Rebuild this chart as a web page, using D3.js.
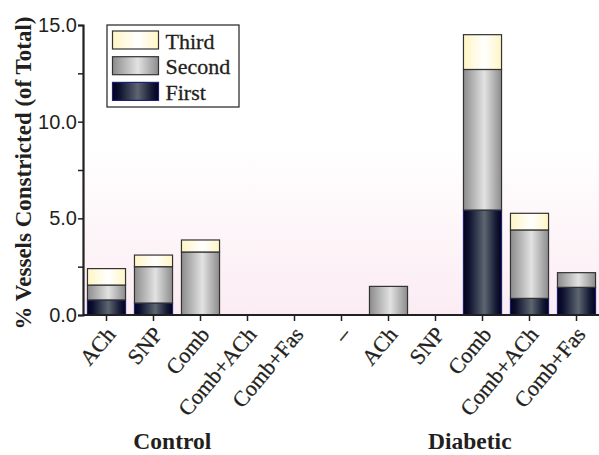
<!DOCTYPE html>
<html>
<head>
<meta charset="utf-8">
<script src="https://cdn.jsdelivr.net/npm/d3@7"></script>
<style>
  body { margin: 0; background: #fff; }
  svg { display: block; }
</style>
</head>
<body>
<svg width="599" height="455"></svg>
<script>
// categories along the x axis (two groups)
const categories = ["ACh", "SNP", "Comb", "Comb+ACh", "Comb+Fas", "\u2013",
                    "ACh", "SNP", "Comb", "Comb+ACh", "Comb+Fas"];
// group label centres, in category steps from the first bar
const groups = [{ name: "Control", at: 1.4 }, { name: "Diabetic", at: 7.73 }];

// stacked segment values (% of total)
const first  = [0.78, 0.62, 0, 0, 0, 0, 0,    0, 5.43, 0.86, 1.43];
const second = [0.77, 1.88, 3.26, 0, 0, 0, 1.48, 0, 7.27, 3.54, 0.76];
const third  = [0.85, 0.60, 0.62, 0, 0, 0, 0,    0, 1.80, 0.86, 0];

const yTicks = [0, 5, 10, 15];

const svg = d3.select("svg"),
    width = +svg.attr("width"),
    height = +svg.attr("height");

const margin = { left: 83, right: 0, top: 25, bottom: 140 };
const plotBottom = height - margin.bottom;
const serif = "'Liberation Serif', 'Times New Roman', serif";
const ink = "#231f20";

const rows = categories.map((c, i) => ({ i, first: first[i], second: second[i], third: third[i] }));
const keys = ["first", "second", "third"];
const series = d3.stack().keys(keys)(rows);

const x = d3.scaleBand()
    .domain(d3.range(categories.length))
    .range([margin.left, margin.left + 47 * categories.length])
    .paddingInner(0.19)
    .paddingOuter(0.095);

const y = d3.scaleLinear()
    .domain([0, 15])
    .range([plotBottom, margin.top]);

// gradients
const defs = svg.append("defs");
function hGrad(id, stops) {
    const g = defs.append("linearGradient").attr("id", id)
        .attr("x1", "0%").attr("x2", "100%").attr("y1", "0%").attr("y2", "0%");
    stops.forEach(s => g.append("stop").attr("offset", s[0]).attr("stop-color", s[1]));
}
hGrad("g-first", [["0%", "#03001c"], ["15%", "#0e1230"], ["55%", "#5d6670"], ["85%", "#151a35"], ["100%", "#03001c"]]);
hGrad("g-second", [["0%", "#8c8c8c"], ["55%", "#e2e2e2"], ["100%", "#8c8c8c"]]);
hGrad("g-third", [["0%", "#fff5c4"], ["55%", "#ffffff"], ["100%", "#fff5c4"]]);

const bg = defs.append("linearGradient").attr("id", "g-bg")
    .attr("x1", "0%").attr("x2", "0%").attr("y1", "0%").attr("y2", "100%");
bg.append("stop").attr("offset", "0%").attr("stop-color", "#ffffff");
bg.append("stop").attr("offset", "42%").attr("stop-color", "#ffffff");
bg.append("stop").attr("offset", "100%").attr("stop-color", "#fbecf3");

svg.append("rect")
    .attr("x", margin.left).attr("y", margin.top)
    .attr("width", width - margin.left).attr("height", plotBottom - margin.top)
    .attr("fill", "url(#g-bg)");

const fills = { first: "url(#g-first)", second: "url(#g-second)", third: "url(#g-third)" };
const strokes = { first: "#1c2170", second: "#333", third: "#333" };

svg.append("g")
    .selectAll("g")
    .data(series)
    .enter().append("g")
    .attr("fill", d => fills[d.key])
    .attr("stroke", d => strokes[d.key])
    .attr("stroke-width", 1.2)
    .selectAll("rect")
    .data(d => d.filter(p => p[1] - p[0] > 0))
    .enter().append("rect")
    .attr("x", d => x(d.data.i))
    .attr("width", x.bandwidth())
    .attr("y", d => y(d[1]))
    .attr("height", d => y(d[0]) - y(d[1]));

// y axis
const yAxis = svg.append("g")
    .attr("transform", `translate(${margin.left},0)`)
    .call(d3.axisLeft(y).tickValues(d3.range(0, 15.01, 2.5)).tickSize(5)
        .tickFormat(d => yTicks.includes(d) ? d3.format(".1f")(d) : ""));
yAxis.select(".domain").attr("stroke", ink).attr("stroke-width", 2.2);
yAxis.selectAll(".tick line").attr("stroke", ink).attr("stroke-width", 1.5);
yAxis.selectAll(".tick text")
    .attr("font-family", "'Liberation Sans', Arial, sans-serif")
    .attr("font-size", 20)
    .attr("fill", ink)
    .attr("x", -6);

// x axis
const xAxis = svg.append("g")
    .attr("transform", `translate(0,${plotBottom})`)
    .call(d3.axisBottom(x).tickSize(6).tickSizeOuter(0).tickFormat(i => categories[i]));
xAxis.select(".domain").attr("stroke", ink).attr("stroke-width", 2.2)
    .attr("d", `M${margin.left},0H${width}`);
xAxis.selectAll(".tick line").attr("stroke", ink).attr("stroke-width", 1.5);
xAxis.selectAll(".tick text")
    .attr("font-family", serif)
    .attr("font-size", 22)
    .attr("fill", ink)
    .attr("stroke", ink)
    .attr("stroke-width", 0.3)
    .attr("text-anchor", "end")
    .attr("dy", null)
    .attr("y", 0)
    .attr("transform", "translate(10,20) rotate(-50)");

// group labels
const x0 = x(0) + x.bandwidth() / 2;
svg.append("g")
    .selectAll("text")
    .data(groups)
    .enter().append("text")
    .attr("x", d => x0 + d.at * x.step())
    .attr("y", 449)
    .attr("text-anchor", "middle")
    .attr("font-family", serif)
    .attr("font-weight", "bold")
    .attr("font-size", 23.5)
    .attr("fill", ink)
    .text(d => d.name);

// y label
svg.append("text")
    .attr("transform", `translate(31,${(margin.top + plotBottom) / 2 + 3}) rotate(-90)`)
    .attr("text-anchor", "middle")
    .attr("font-family", serif)
    .attr("font-weight", "bold")
    .attr("font-size", 23)
    .attr("fill", ink)
    .text("% Vessels Constricted (of Total)");

// legend
const legendKeys = [["third", "Third"], ["second", "Second"], ["first", "First"]];
const legend = svg.append("g").attr("transform", "translate(107,25)");
legend.append("rect")
    .attr("width", 132).attr("height", 82)
    .attr("fill", "#fff").attr("stroke", ink).attr("stroke-width", 1.2);
const li = legend.selectAll("g.item")
    .data(legendKeys)
    .enter().append("g")
    .attr("class", "item")
    .attr("transform", (d, i) => `translate(5.5,${6 + i * 25.7})`);
li.append("rect")
    .attr("width", 46).attr("height", 18)
    .attr("fill", d => fills[d[0]])
    .attr("stroke", d => strokes[d[0]])
    .attr("stroke-width", 1.2);
li.append("text")
    .attr("x", 53).attr("y", 17.5)
    .attr("font-family", serif)
    .attr("font-size", 22)
    .attr("fill", ink)
    .attr("stroke", ink)
    .attr("stroke-width", 0.3)
    .text(d => d[1]);
</script>
</body>
</html>
